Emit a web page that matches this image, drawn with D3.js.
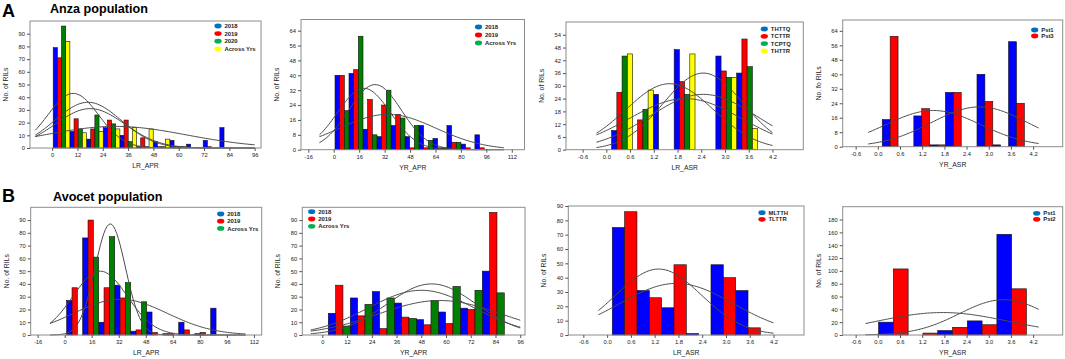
<!DOCTYPE html>
<html>
<head>
<meta charset="utf-8">
<script src="https://cdn.jsdelivr.net/npm/d3@7/dist/d3.min.js"></script>
<style>
  body { margin: 0; background: #fff; }
  svg { display: block; }
  text { font-family: "Liberation Sans", Arial, sans-serif; }
</style>
</head>
<body>
<div id="chart"></div>
<script>
// ---- Anza population ----
const anzaLrAprSeries = ["2018", "2019", "2020", "Across Yrs"];
const anzaLrAprCounts = [
  [79, 13, 7, 16, 10, 1, 5, 6, 3, 6, 16],
  [71, 23, 15, 22, 22, 8, 1, 1, 0, 1, 0],
  [96, 15, 26, 19, 5, 1, 1, 1, 0, 0, 0],
  [84, 12, 13, 15, 16, 15, 7, 1, 0, 0, 0]
];
const anzaLrAprCurves = [
  { mu: 10, sd: 12, peak: 43 },
  { mu: 17, sd: 15.7, peak: 36 },
  { mu: 18, sd: 16.5, peak: 31 },
  { mu: 30, sd: 33.7, peak: 17 }
];

const anzaYrAprSeries = ["2018", "2019", "Across Yrs"];
const anzaYrAprCounts = [
  [40, 41, 11, 7, 13, 7, 13, 6, 13, 3, 8],
  [40, 43, 27, 24, 19, 1, 1, 1, 4, 1, 1],
  [21, 61, 8, 32, 17, 13, 5, 1, 4, 0, 0]
];
const anzaYrAprCurves = [
  { mu: 26, sd: 16.6, peak: 35 },
  { mu: 19, sd: 16.6, peak: 33 },
  { mu: 34, sd: 30.4, peak: 19 }
];

const anzaLrAsrSeries = ["THTTQ", "TCTTR", "TCPTQ", "THTTR"];
const anzaLrAsrCounts = [
  [9, 0, 26, 47, 0, 44, 36],
  [27, 14, 0, 32, 0, 37, 52],
  [44, 19, 0, 26, 0, 34, 39],
  [45, 28, 0, 45, 0, 34, 10]
];
const anzaLrAsrCurves = [
  { mu: 1.6, sd: 1.11, peak: 31 },
  { mu: 2.45, sd: 1.01, peak: 36 },
  { mu: 2.45, sd: 1.35, peak: 26 },
  { mu: 2.0, sd: 1.43, peak: 24 }
];

const anzaYrAsrSeries = ["Pst1", "Pst3"];
const anzaYrAsrCounts = [
  [15, 0, 17, 1, 30, 0, 40, 1, 58],
  [61, 0, 21, 1, 30, 0, 25, 0, 24]
];
const anzaYrAsrCurves = [
  { mu: 1.5, sd: 1.29, peak: 20 },
  { mu: 2.75, sd: 1.3, peak: 22 }
];

// ---- Avocet population ----
const avocetLrAprSeries = ["2018", "2019", "Across Yrs"];
const avocetLrAprCounts = [
  [27, 76, 10, 39, 3, 18, 1, 10, 1, 21],
  [37, 90, 37, 29, 4, 2, 1, 4, 2, 0],
  [0, 61, 77, 41, 26, 0, 0, 0, 0, 0]
];
const avocetLrAprCurves = [
  { mu: 27, sd: 9, peak: 87 },
  { mu: 21, sd: 16.1, peak: 50 },
  { mu: 33, sd: 27.7, peak: 28 }
];

const avocetYrAprSeries = ["2018", "2019", "Across Yrs"];
const avocetYrAprCounts = [
  [17, 29, 34, 25, 12, 18, 21, 50],
  [39, 15, 5, 14, 8, 9, 20, 96],
  [7, 24, 29, 13, 27, 38, 35, 33]
];
const avocetYrAprCurves = [
  { mu: 53, sd: 21.6, peak: 40 },
  { mu: 48, sd: 25.7, peak: 35 },
  { mu: 57, sd: 30, peak: 27 }
];

const avocetLrAsrSeries = ["MLTTH", "TLTTR"];
const avocetLrAsrCounts = [
  [75, 31, 19, 1, 49, 31],
  [86, 26, 49, 0, 40, 5]
];
const avocetLrAsrCurves = [
  { mu: 1.3, sd: 1.08, peak: 46 },
  { mu: 1.75, sd: 1.44, peak: 36 }
];

const avocetYrAsrSeries = ["Pst1", "Pst2"];
const avocetYrAsrCounts = [
  [20, 0, 7, 22, 157],
  [103, 3, 12, 16, 72]
];
const avocetYrAsrCurves = [
  { mu: 1.75, sd: 1.8, peak: 35 },
  { mu: 3.4, sd: 1.19, peak: 55 }
];

// tick labels
const aprTicks12 = [0, 12, 24, 36, 48, 60, 72, 84, 96];
const aprTicks16 = [-16, 0, 16, 32, 48, 64, 80, 96, 112];
const asrTicks = [-0.6, 0.0, 0.6, 1.2, 1.8, 2.4, 3.0, 3.6, 4.2];
const yTicks10 = [0, 10, 20, 30, 40, 50, 60, 70, 80, 90];
const yTicks8 = [0, 8, 16, 24, 32, 40, 48, 56, 64];
const yTicks6 = [0, 6, 12, 18, 24, 30, 36, 42, 48, 54];
const yTicks20 = [0, 20, 40, 60, 80, 100, 120, 140, 160, 180];

const barColors = ["#0000ff", "#ff0000", "#008000", "#ffff00"];
const legendColors = ["#0070c0", "#ff0000", "#00b050", "#ffff00"];

const W = 1065, H = 359;
const svg = d3.select("#chart").append("svg").attr("width", W).attr("height", H);

// panel boxes are in page pixels, everything inside goes through scales
const panels = [
  { box: [30, 21, 261, 148], xd: [-10.5, 99], yd: [0, 100], xt: aprTicks12, yt: yTicks10, fmt: String,
    series: anzaLrAprSeries, counts: anzaLrAprCounts, binStart: 0.5, binWidth: 7.9,
    curves: anzaLrAprCurves, range: [-8, 96], xLabel: "LR_APR", yLabel: "No. of RILs", legend: [-43, 5, 7.6] },
  { box: [301, 19.5, 524.5, 149.7], xd: [-20.6, 120], yd: [0, 70], xt: aprTicks16, yt: yTicks8, fmt: String,
    series: anzaYrAprSeries, counts: anzaYrAprCounts, binStart: 0.8, binWidth: 8.8,
    curves: anzaYrAprCurves, range: [-9, 107], xLabel: "YR_APR", yLabel: "No. of RILs", legend: [-46, 7.5, 8] },
  { box: [566, 22, 803.3, 149.7], xd: [-1.02, 4.98], yd: [0, 60], xt: asrTicks, yt: yTicks6, fmt: d => d.toFixed(1),
    series: anzaLrAsrSeries, counts: anzaLrAsrCounts, binStart: 0.134, binWidth: 0.527,
    curves: anzaLrAsrCurves, range: [-0.25, 4.2], xLabel: "LR_ASR", yLabel: "No. of RILs", legend: [-39, 7, 7.3] },
  { box: [842.7, 20, 1062.7, 146.7], xd: [-0.95, 5], yd: [0, 70], xt: asrTicks, yt: yTicks8, fmt: d => d.toFixed(1),
    series: anzaYrAsrSeries, counts: anzaYrAsrCounts, binStart: 0.12, binWidth: 0.427,
    curves: anzaYrAsrCurves, range: [-0.26, 4.35], xLabel: "YR_ASR", yLabel: "No. fo RILs", legend: [-28, 10, 6] },
  { box: [30.7, 207.3, 261.7, 335], xd: [-20.1, 116.6], yd: [0, 100], xt: aprTicks16, yt: yTicks10, fmt: String,
    series: avocetLrAprSeries, counts: avocetLrAprCounts, binStart: 1.2, binWidth: 9.47,
    curves: avocetLrAprCurves, range: [-8.7, 107], xLabel: "LR_APR", yLabel: "No. of RILs", legend: [-41, 6.7, 7.2] },
  { box: [302.3, 207.3, 525, 335], xd: [-9.7, 98.3], yd: [0, 100], xt: aprTicks12, yt: yTicks10, fmt: String,
    series: avocetYrAprSeries, counts: avocetYrAprCounts, binStart: 2.9, binWidth: 10.67,
    curves: avocetYrAprCurves, range: [-5.6, 96], xLabel: "YR_APR", yLabel: "No. of RILs", legend: [9.4, 4.4, 7.3], legendLeft: true },
  { box: [568.3, 206, 804, 335], xd: [-0.98, 4.97], yd: [0, 90], xt: asrTicks, yt: yTicks10, fmt: d => d.toFixed(1),
    series: avocetLrAsrSeries, counts: avocetLrAsrCounts, binStart: 0.13, binWidth: 0.623,
    curves: avocetLrAsrCurves, range: [-0.22, 4.2], xLabel: "LR_ASR", yLabel: "No. of RILs", legend: [-42, 6.7, 6.6] },
  { box: [842.7, 206.7, 1062.7, 335], xd: [-0.95, 5], yd: [0, 200], xt: asrTicks, yt: yTicks20, fmt: d => d.toFixed(1),
    series: avocetYrAsrSeries, counts: avocetYrAsrCounts, binStart: 0.02, binWidth: 0.8,
    curves: avocetYrAsrCurves, range: [-0.33, 4.35], xLabel: "YR_ASR", yLabel: "No. of RILs", legend: [-26, 6.6, 6] }
];

panels.forEach(p => {
  const [x0, y0, x1, y1] = p.box;
  const x = d3.scaleLinear().domain(p.xd).range([x0, x1]);
  const y = d3.scaleLinear().domain(p.yd).range([y1, y0]);
  const g = svg.append("g");

  // bars
  const n = p.series.length;
  const bw = p.binWidth / n;
  p.counts.forEach((vals, s) => {
    g.append("g").selectAll("rect")
      .data(vals.map((v, i) => ({ v, i })).filter(d => d.v > 0))
      .join("rect")
      .attr("x", d => x(p.binStart + d.i * p.binWidth + s * bw))
      .attr("width", x(p.xd[0] + bw) - x(p.xd[0]))
      .attr("y", d => y(d.v))
      .attr("height", d => y(0) - y(d.v))
      .attr("fill", barColors[s])
      .attr("stroke", "#111")
      .attr("stroke-width", 0.6);
  });

  // fitted normal curves
  const line = d3.line().x(d => x(d[0])).y(d => y(d[1]));
  p.curves.forEach(c => {
    const step = (p.range[1] - p.range[0]) / 120;
    const pts = d3.range(p.range[0], p.range[1] + step / 2, step)
      .map(t => [t, c.peak * Math.exp(-((t - c.mu) ** 2) / (2 * c.sd * c.sd))]);
    g.append("path").attr("d", line(pts))
      .attr("fill", "none").attr("stroke", "#4a4a4a").attr("stroke-width", 1);
  });

  // frame
  g.append("rect").attr("x", x0).attr("y", y0).attr("width", x1 - x0).attr("height", y1 - y0)
    .attr("fill", "none").attr("stroke", "#8c8c8c").attr("stroke-width", 1);

  // axes
  const ax = g.append("g").attr("transform", `translate(0,${y1})`)
    .call(d3.axisBottom(x).tickValues(p.xt).tickFormat(p.fmt).tickSize(3).tickPadding(2));
  const ay = g.append("g").attr("transform", `translate(${x0},0)`)
    .call(d3.axisLeft(y).tickValues(p.yt).tickFormat(String).tickSize(3).tickPadding(2));
  [ax, ay].forEach(a => {
    a.select(".domain").remove();
    a.selectAll("line").attr("stroke", "#555");
    a.selectAll("text").attr("font-size", 5.8).attr("fill", "#222");
  });

  g.append("text").attr("x", (x0 + x1) / 2).attr("y", y1 + 20)
    .attr("text-anchor", "middle").attr("font-size", 6.8).attr("fill", "#222").text(p.xLabel);
  g.append("text").attr("transform", `translate(${x0 - 22},${(y0 + y1) / 2}) rotate(-90)`)
    .attr("text-anchor", "middle").attr("font-size", 6.8).attr("fill", "#222").text(p.yLabel);

  // legend
  const [lx, ly, lh] = p.legend;
  const legX = p.legendLeft ? x0 + lx : x1 + lx;
  const leg = g.append("g").selectAll("g").data(p.series).join("g")
    .attr("transform", (d, i) => `translate(${legX},${y0 + ly + i * lh})`);
  leg.append("ellipse").attr("rx", 3.6).attr("ry", 2.4)
    .attr("fill", (d, i) => legendColors[i]);
  leg.append("text").attr("x", 6.5).attr("y", 2.1)
    .attr("font-size", 5.9).attr("font-weight", "bold").attr("fill", "#222").text(d => d);
});

// panel titles
svg.append("text").attr("x", 2).attr("y", 17).attr("font-size", 18).attr("font-weight", "bold").text("A");
svg.append("text").attr("x", 50).attr("y", 12.5).attr("font-size", 12.6).attr("font-weight", "bold").text("Anza population");
svg.append("text").attr("x", 2).attr("y", 202).attr("font-size", 18).attr("font-weight", "bold").text("B");
svg.append("text").attr("x", 53).attr("y", 201).attr("font-size", 12.6).attr("font-weight", "bold").text("Avocet population");
</script>
</body>
</html>
